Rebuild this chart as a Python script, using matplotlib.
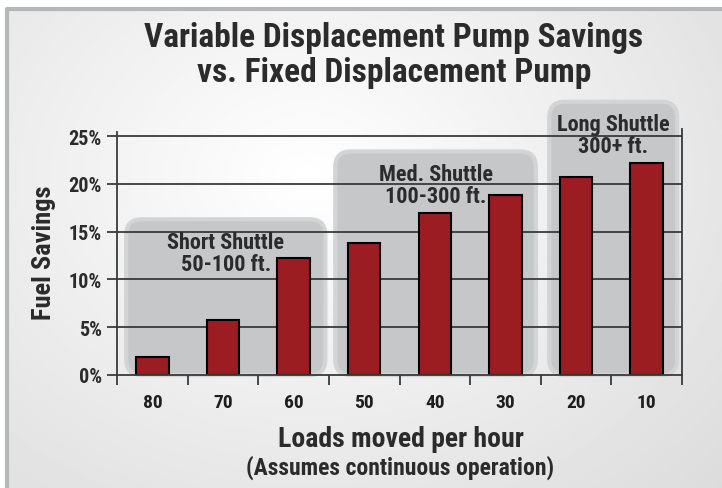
import numpy as np
import matplotlib
matplotlib.use("Agg")
import matplotlib.pyplot as plt
from matplotlib.patches import FancyBboxPatch

plt.rcParams['font.family'] = ['Roboto Condensed', 'Liberation Sans', 'DejaVu Sans']
plt.rcParams['font.weight'] = 'bold'

loads = ["80", "70", "60", "50", "40", "30", "20", "10"]
savings = [1.9, 5.8, 12.2, 13.8, 17.0, 18.8, 20.7, 22.2]
yticks = [0, 5, 10, 15, 20, 25]
ytick_labels = ["0%", "5%", "10%", "15%", "20%", "25%"]

# shuttle groups: label, first bar, last bar, box top (%)
groups = [
    ("Short Shuttle\n50-100 ft.", 0, 2, 16.3),
    ("Med. Shuttle\n100-300 ft.", 3, 5, 23.4),
    ("Long Shuttle\n300+ ft.", 6, 7, 28.6),
]

W, H = 722, 489
fig = plt.figure(figsize=(W / 100, H / 100), dpi=100)
fig.patch.set_facecolor("white")

# background panel with soft gradient, framed on left and top
bg = fig.add_axes([7 / W, 0, 1 - 7 / W, 1 - 10 / H])
bg.set_axis_off()
yy, xx = np.mgrid[0:1:200j, 0:1:300j]
d = np.sqrt(((xx - 0.42) / 0.75) ** 2 + ((yy - 0.35) / 0.9) ** 2)
shade = np.clip(1 - 0.13 * d, 0.86, 1.0)
bg.imshow(shade, cmap="gray", vmin=0, vmax=1, aspect="auto", extent=[0, 1, 0, 1], origin="upper")
bg.plot([0, 0, 1], [0, 1, 1], color="#b5b6b8", linewidth=3, transform=bg.transAxes, clip_on=False)

ax = fig.add_axes([117 / W, (H - 376) / H, (682 - 117) / W, (376 - 130) / H])
ax.set_facecolor("none")
x = np.arange(len(loads))
ax.set_xlim(-0.5, len(loads) - 0.5)
ax.set_ylim(0, 25.75)

# rounded gray group boxes
x_px = (682 - 117) / len(loads)
y_px = (376 - 130) / 25.75
asp = x_px / y_px
pad = {0: (0.13, 0.05), 1: (0.09, 0.07), 2: (0.12, 0.07)}
for k, (label, i0, i1, top) in enumerate(groups):
    left = i0 - 0.5 + pad[k][0]
    right = i1 + 0.5 - pad[k][1]
    box = FancyBboxPatch((left, 0), right - left, top,
                         boxstyle="round,pad=0,rounding_size=0.22",
                         mutation_aspect=asp, facecolor="#c6c7c9",
                         edgecolor="#d3d4d6", linewidth=3, zorder=0.2, clip_on=False)
    ax.add_patch(box)
    ax.text((left + right) / 2, top - 1.2, label, ha="center", va="top",
            fontsize=16, color="#2b2b2b", linespacing=1.0, zorder=3)

ax.bar(x, savings, width=0.46, color="#9b1c21", edgecolor="black", linewidth=1.5, zorder=2)

for v in yticks[1:]:
    ax.axhline(v, xmin=0, xmax=1, color="#3a3a3a", linewidth=1.3, zorder=1)

ax.set_yticks(yticks)
ax.set_yticklabels(ytick_labels)
ax.set_xticks(x)
ax.set_xticklabels(loads)
ax.set_xticks(np.arange(len(loads) + 1) - 0.5, minor=True)
ax.tick_params(axis="x", which="major", length=0, pad=13, labelsize=14, labelcolor="#1e1e1e")
ax.tick_params(axis="x", which="minor", length=7, width=1.3, color="#3a3a3a", direction="out")
ax.tick_params(axis="y", length=7, width=1.3, color="#3a3a3a", pad=4, labelsize=14.5, labelcolor="#2b2b2b")

ax.spines["top"].set_visible(False)
for s in ["left", "right", "bottom"]:
    ax.spines[s].set_color("#3a3a3a")
    ax.spines[s].set_linewidth(1.3)
ax.spines["left"].set_bounds(0, 25.4)

ax.set_ylabel("Fuel Savings", fontsize=19, fontweight="bold", color="#2b2b2b", labelpad=9)

fig.text(394 / W, 1 - 38 / H, "Variable Displacement Pump Savings",
         ha="center", va="center", fontsize=24, color="#2b2b2b")
fig.text(394 / W, 1 - 73 / H, "vs. Fixed Displacement Pump",
         ha="center", va="center", fontsize=24, color="#2b2b2b")
fig.text(401 / W, 1 - 440 / H, "Loads moved per hour",
         ha="center", va="center", fontsize=20, color="#2b2b2b")
fig.text(400 / W, 1 - 468 / H, "(Assumes continuous operation)",
         ha="center", va="center", fontsize=17, color="#2b2b2b")

fig.savefig("out.png", dpi=100)
